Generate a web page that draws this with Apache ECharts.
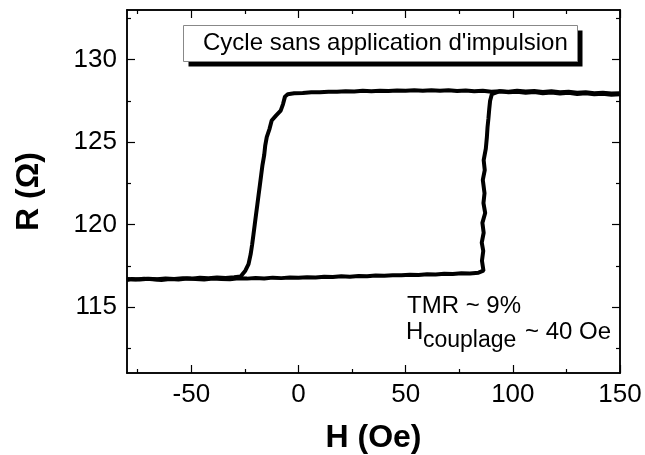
<!DOCTYPE html>
<html>
<head>
<meta charset="utf-8">
<script src="https://cdn.jsdelivr.net/npm/echarts@6/dist/echarts.min.js"></script>
<style>
html,body{margin:0;padding:0;background:#fff;}
#chart{width:645px;height:455px;}
</style>
</head>
<body>
<div id="chart"></div>
<script>
// ---- Data (H in Oe, R in Ohm) ----
// Sweep with increasing field: low-resistance branch, switch near +87 Oe
var sweepUpH = [-80,-76,-72,-68,-64,-60,-56,-52,-48,-44,-40,-36,-32,-28,-24,-20,-16,-12,-8,-4,0,4,8,12,16,20,24,28,32,36,40,44,48,52,56,60,64,68,72,76,80,84,
  86.3,85.6,86.2,85.5,86.4,85.8,87.1,86.3,86.8,86.0,86.9,86.4,87.4,87.9,88.2,88.6,89.0,89.4,90.2,
  94,98,102,106,110,114,118,122,126,130,134,138,142,146,150];
var sweepUpR = [116.70,116.66,116.72,116.68,116.64,116.70,116.67,116.73,116.69,116.66,116.72,116.70,116.68,116.74,116.72,116.76,116.73,116.78,116.75,116.79,116.77,116.81,116.79,116.84,116.82,116.86,116.84,116.88,116.86,116.91,116.89,116.93,116.92,116.96,116.94,116.98,116.97,117.01,117.00,117.04,117.03,117.08,
  117.2,117.8,118.4,118.9,119.5,120.1,120.7,121.3,121.9,122.7,123.3,123.9,124.6,125.3,125.9,126.4,127.0,127.5,127.9,
  128.08,128.04,128.10,128.06,128.09,128.03,128.07,128.01,128.05,127.98,128.02,127.96,127.99,127.94,127.96];
// Sweep with decreasing field: high-resistance branch, switch near -20 Oe
var sweepDownH = [150,146,142,138,134,130,126,122,118,114,110,106,102,98,94,90,86,82,78,74,70,66,62,58,54,50,46,42,38,34,30,26,22,18,14,10,6,2,-2,-5,
  -6.3,-7.2,-8.3,-10.5,-12.5,-13.5,-14.8,-15.5,-16.0,-16.8,-17.4,-18.0,-18.6,-19.2,-19.8,-20.4,-21.0,-21.6,-22.3,-23.3,-24.8,-27.0,
  -30,-34,-38,-42,-46,-50,-54,-58,-62,-66,-70,-74,-78,-80];
var sweepDownR = [127.90,127.86,127.93,127.89,127.95,127.91,127.98,127.94,128.00,127.96,128.03,127.99,128.05,128.02,128.08,128.05,128.10,128.07,128.12,128.09,128.13,128.10,128.14,128.11,128.13,128.10,128.12,128.09,128.11,128.08,128.10,128.06,128.08,128.04,128.05,128.01,128.02,127.97,127.95,127.90,
  127.75,127.3,126.9,126.6,126.3,125.8,125.3,124.8,124.2,123.6,123.0,122.4,121.8,121.2,120.6,120.0,119.4,118.8,118.2,117.6,117.2,116.85,
  116.80,116.76,116.79,116.74,116.77,116.72,116.75,116.70,116.73,116.68,116.71,116.66,116.69,116.64];

var xMajorTicks = [-50,0,50,100,150];
var xMinorTicks = [-75,-25,25,75,125];
var yMajorTicks = [115,120,125,130];
var yMinorTicks = [112.5,117.5,122.5,127.5,132.5];

var xTitle = 'H (Oe)';
var yTitle = 'R (\u03A9)';
var boxText = "Cycle sans application d'impulsion";
var noteLine1 = 'TMR ~ 9%';

function pairs(h, r){ return h.map(function(v,i){ return [v, r[i]]; }); }

var FONT = 'Liberation Sans, Arial, sans-serif';
var lineStyle = {color:'#000', width:1.5};

function xAx(pos, ticks, len, labels){
  return {
    type:'value', gridIndex:0, position:pos, min:-80, max:150,
    axisLine:{show:true, onZero:false, lineStyle:lineStyle},
    axisTick:{show:true, inside:true, length:len, customValues:ticks, lineStyle:{color:'#000',width:1.2}},
    axisLabel:{show:labels, customValues:ticks, color:'#000', fontSize:26, fontFamily:FONT, margin:9},
    splitLine:{show:false}
  };
}
function yAx(pos, ticks, len, labels){
  return {
    type:'value', gridIndex:0, position:pos, min:111, max:133,
    axisLine:{show:true, onZero:false, lineStyle:lineStyle},
    axisTick:{show:true, inside:true, length:len, customValues:ticks, lineStyle:{color:'#000',width:1.2}},
    axisLabel:{show:labels, customValues:ticks, color:'#000', fontSize:26, fontFamily:FONT, margin:10},
    splitLine:{show:false}
  };
}

var xAxes = [xAx('bottom', xMajorTicks, 8, true), xAx('bottom', xMinorTicks, 4, false),
             xAx('top', xMajorTicks, 8, false), xAx('top', xMinorTicks, 4, false)];
xAxes[0].name = xTitle; xAxes[0].nameLocation = 'middle'; xAxes[0].nameGap = 49;
xAxes[0].nameTextStyle = {fontSize:32, fontWeight:'bold', color:'#000', fontFamily:FONT};
var yAxes = [yAx('left', yMajorTicks, 8, true), yAx('left', yMinorTicks, 4, false),
             yAx('right', yMajorTicks, 8, false), yAx('right', yMinorTicks, 4, false)];
yAxes[0].name = yTitle; yAxes[0].nameLocation = 'middle'; yAxes[0].nameGap = 82;
yAxes[0].nameTextStyle = {fontSize:32, fontWeight:'bold', color:'#000', fontFamily:FONT};

var chart = echarts.init(document.getElementById('chart'), null, {renderer:'canvas'});
chart.setOption({
  animation:false,
  backgroundColor:'#fff',
  grid:{left:127, right:25, top:10, bottom:82, containLabel:false, outerBoundsMode:'none'},
  xAxis: xAxes,
  yAxis: yAxes,
  series:[
    {type:'line', xAxisIndex:0, yAxisIndex:0, data:pairs(sweepUpH, sweepUpR), showSymbol:false, smooth:false,
     lineStyle:{color:'#000', width:4}, z:3},
    {type:'line', xAxisIndex:0, yAxisIndex:0, data:pairs(sweepDownH, sweepDownR), showSymbol:false, smooth:false,
     lineStyle:{color:'#000', width:4}, z:3}
  ],
  graphic:[
    {type:'rect', shape:{x:188.5, y:30.5, width:394, height:36}, style:{fill:'#000'}, z:10},
    {type:'rect', shape:{x:183.5, y:25.5, width:394, height:36}, style:{fill:'#fff', stroke:'#888', lineWidth:1}, z:11},
    {type:'text', x:203, y:31, style:{text:boxText, fontSize:24, fontFamily:FONT, fill:'#000', textVerticalAlign:'top'}, z:12},
    {type:'text', x:407, y:294, style:{text:noteLine1, fontSize:24, fontFamily:FONT, fill:'#000', textVerticalAlign:'top'}, z:12},
    {type:'text', x:406, y:320, style:{text:'H', fontSize:24, fontFamily:FONT, fill:'#000', textVerticalAlign:'top'}, z:12},
    {type:'text', x:423, y:329, style:{text:'couplage', fontSize:23, fontFamily:FONT, fill:'#000', textVerticalAlign:'top'}, z:12},
    {type:'text', x:525, y:320, style:{text:'~ 40 Oe', fontSize:24, fontFamily:FONT, fill:'#000', textVerticalAlign:'top'}, z:12}
  ]
});
</script>
</body>
</html>
